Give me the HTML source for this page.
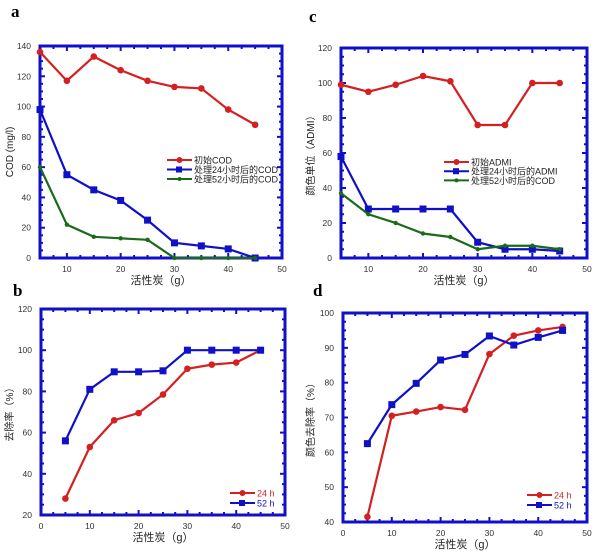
<!DOCTYPE html>
<html><head><meta charset="utf-8"><style>
body{margin:0;background:#fff;}
svg{display:block;font-family:"Liberation Sans","Noto Sans CJK SC",sans-serif;}
</style></head><body>
<svg id="s" width="600" height="555" xmlns="http://www.w3.org/2000/svg">
<text x="11" y="17" font-family="Liberation Serif,serif" font-weight="bold" font-size="17">a</text>
<text x="309" y="22" font-family="Liberation Serif,serif" font-weight="bold" font-size="17">c</text>
<text x="13" y="296" font-family="Liberation Serif,serif" font-weight="bold" font-size="17">b</text>
<text x="313" y="296" font-family="Liberation Serif,serif" font-weight="bold" font-size="17">d</text>
</svg>
<script>
var s=document.getElementById('s'),NS='http://www.w3.org/2000/svg';
function el(t,a,txt){var e=document.createElementNS(NS,t);for(var k in a)e.setAttribute(k,a[k]);if(txt!=null)e.textContent=txt;s.appendChild(e);return e;}
var R='#d42020',B='#1010c8',G='#1a6a1a';
function panel(p){
 var X=function(v){return p.l+(v-p.x0)/(p.x1-p.x0)*(p.r-p.l)},Y=function(v){return p.b-(v-p.y0)/(p.y1-p.y0)*(p.b-p.t)};
 for(var v=p.x0;v<=p.x1+1e-9;v+=p.xm){var x=X(v);var maj=Math.abs(v/p.xs-Math.round(v/p.xs))<1e-6;var L=maj?5:3;
  el('line',{x1:x,x2:x,y1:p.b,y2:p.b-L,stroke:B,'stroke-width':2});el('line',{x1:x,x2:x,y1:p.t,y2:p.t+L,stroke:B,'stroke-width':2});
  if(maj&&(v>=10||p.x0==0))el('text',{x:x,y:p.b+14,'font-size':8.5,'text-anchor':'middle',fill:'#333'},v);}
 for(var v=p.y0;v<=p.y1+1e-9;v+=p.ym){var y=Y(v);var maj=Math.abs(v/p.ys-Math.round(v/p.ys))<1e-6;var L=maj?5:3;
  el('line',{x1:p.l,x2:p.l+L,y1:y,y2:y,stroke:B,'stroke-width':2});el('line',{x1:p.r,x2:p.r-L,y1:y,y2:y,stroke:B,'stroke-width':2});
  if(maj)el('text',{x:p.l-9,y:y+3,'font-size':8.5,'text-anchor':'end',fill:'#333'},v);}
 el('rect',{x:p.l,y:p.t,width:p.r-p.l,height:p.b-p.t,fill:'none',stroke:B,'stroke-width':3});
 el('text',{x:(p.l+p.r)/2,y:p.b+26,'font-size':11,'text-anchor':'middle',fill:'#222'},'活性炭（g）');
 var cy=(p.t+p.b)/2;el('text',{x:p.yl,y:cy,'font-size':10,'text-anchor':'middle',fill:'#222',transform:'rotate(-90 '+p.yl+' '+cy+')'},p.ytitle);
 p.series.forEach(function(sr,i){var pts=sr.d.map(function(v,j){return X(5+5*j)+','+Y(v)}).join(' ');
  el('polyline',{points:pts,fill:'none',stroke:sr.c,'stroke-width':2.2});
  sr.d.forEach(function(v,j){var x=X(5+5*j),y=Y(v);
   if(sr.m=='s')el('rect',{x:x-3.5,y:y-3.5,width:7,height:7,fill:sr.c});else el('circle',{cx:x,cy:y,r:sr.m=='c'?3.3:2.2,fill:sr.c});});
  var ly=p.leg[1]+i*p.leg[3];el('line',{x1:p.leg[0],x2:p.leg[0]+25,y1:ly,y2:ly,stroke:sr.c,'stroke-width':2});
  if(sr.m=='s')el('rect',{x:p.leg[0]+9,y:ly-3,width:6,height:6,fill:sr.c});else el('circle',{cx:p.leg[0]+12.5,cy:ly,r:sr.m=='c'?3:2,fill:sr.c});
  el('text',{x:p.leg[0]+27,y:ly+3.5,'font-size':p.leg[2],fill:p.legc?sr.c:'#222'},sr.n);});
}
panel({l:40,r:282,t:46,b:258,x0:5,x1:50,xs:10,xm:2.5,y0:0,y1:140,ys:20,ym:5,yl:13,ytitle:'COD (mg/l)',leg:[167,160,9,9.5],
 series:[{c:R,m:'c',n:'初始COD',d:[136,117,133,124,117,113,112,98,88]},{c:B,m:'s',n:'处理24小时后的COD',d:[98,55,45,38,25,10,8,6,0]},{c:G,m:'d',n:'处理52小时后的COD',d:[60,22,14,13,12,0,0,0,0]}]});
panel({l:341,r:587,t:48,b:258,x0:5,x1:50,xs:10,xm:2.5,y0:0,y1:120,ys:20,ym:5,yl:314,ytitle:'颜色单位（ADMI）',leg:[444,162,9,9.2],
 series:[{c:R,m:'c',n:'初始ADMI',d:[99,95,99,104,101,76,76,100,100]},{c:B,m:'s',n:'处理24小时后的ADMI',d:[58,28,28,28,28,9,5,5,4]},{c:G,m:'d',n:'处理52小时后的COD',d:[37,25,20,14,12,5,7,7,5]}]});
panel({l:41,r:285,t:309,b:515,x0:0,x1:50,xs:10,xm:2.5,y0:20,y1:120,ys:20,ym:5,yl:13,ytitle:'去除率（%）',leg:[230,493,9,10],legc:1,
 series:[{c:R,m:'c',n:'24 h',d:[28,53,66,69.5,78.5,91,93,94,100]},{c:B,m:'s',n:'52 h',d:[56,81,89.5,89.5,90,100,100,100,100]}]});
panel({l:343,r:587,t:313,b:522,x0:0,x1:50,xs:10,xm:2.5,y0:40,y1:100,ys:10,ym:2.5,yl:314,ytitle:'颜色去除率（%）',leg:[527,495,9,10],legc:1,
 series:[{c:R,m:'c',n:'24 h',d:[41.5,70.5,71.7,73,72.2,88.2,93.5,95,96]},{c:B,m:'s',n:'52 h',d:[62.5,73.7,79.8,86.5,88.1,93.4,90.8,93,95]}]});
</script>
</body></html>
